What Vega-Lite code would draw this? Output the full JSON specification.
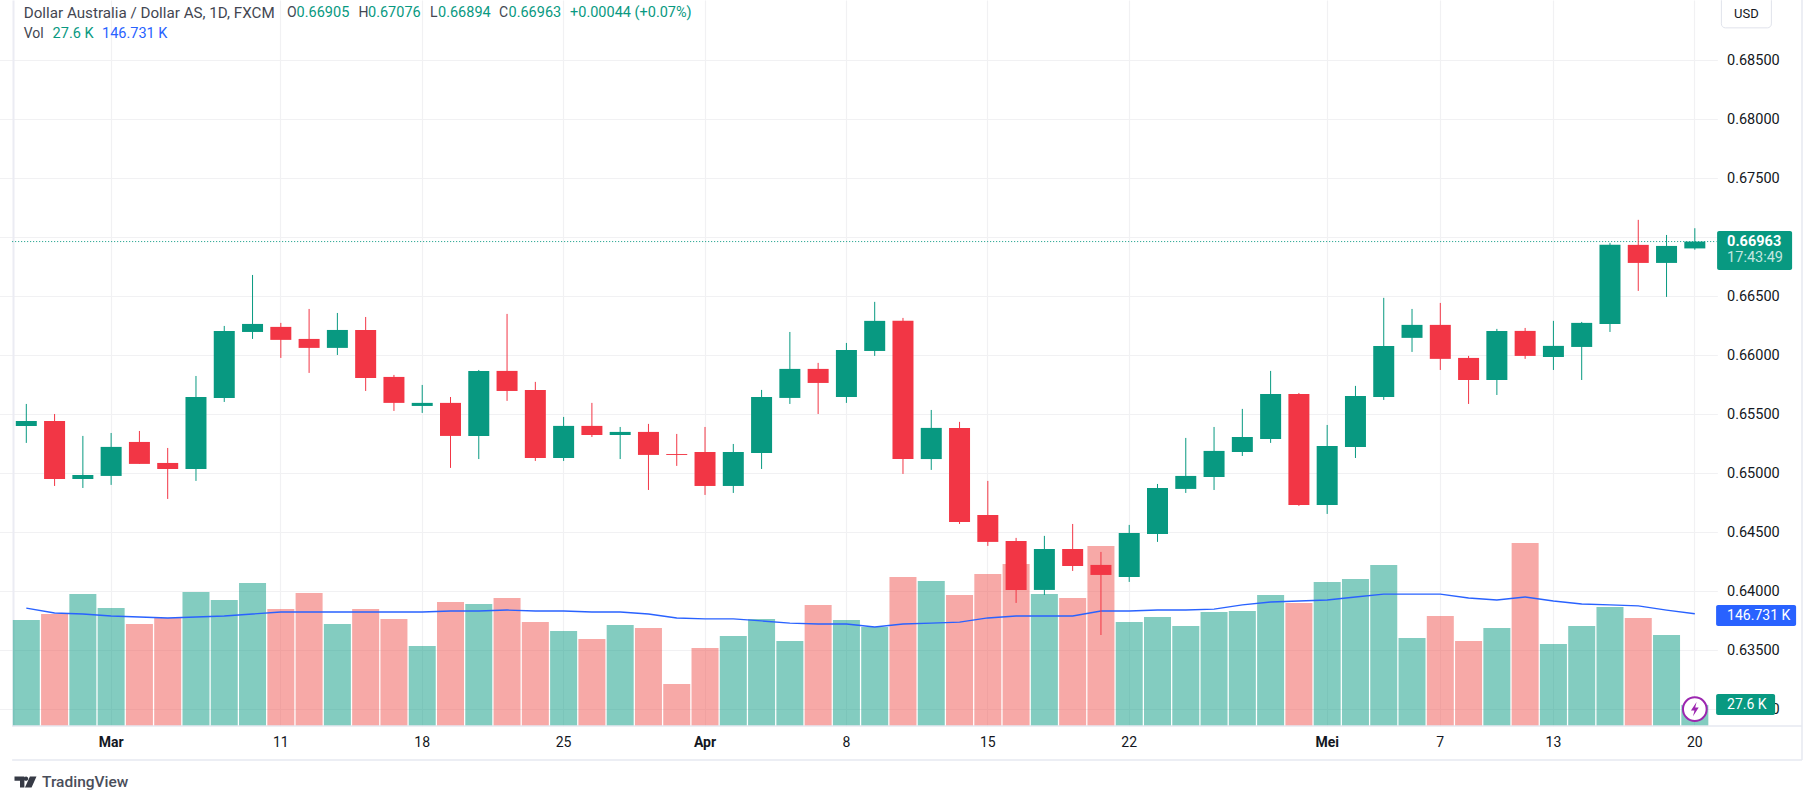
{
"$schema":"https://vega.github.io/schema/vega-lite/v6.json",
"width":1703.5,"height":726,
"autosize":{"type":"none"},
"padding":{"left":13,"top":0,"right":98.5,"bottom":79},
"background":"#ffffff",
"config":{"view":{"stroke":null},"font":"Roboto","text":{"font":"Roboto"}},
"datasets":{"candles":[
{"date":"2024-02-27","o":0.65401,"h":0.65587,"l":0.65257,"c":0.65443,"vol":138.6,"ma":154.2,"dir":"up"},
{"date":"2024-02-28","o":0.65443,"h":0.65502,"l":0.64892,"c":0.64951,"vol":146.4,"ma":147.7,"dir":"down"},
{"date":"2024-02-29","o":0.64951,"h":0.65316,"l":0.64875,"c":0.64985,"vol":172.5,"ma":146.4,"dir":"up"},
{"date":"2024-03-01","o":0.64977,"h":0.65341,"l":0.64901,"c":0.65223,"vol":154.2,"ma":143.8,"dir":"up"},
{"date":"2024-03-04","o":0.65265,"h":0.65358,"l":0.65079,"c":0.65079,"vol":133.3,"ma":142.5,"dir":"down"},
{"date":"2024-03-05","o":0.65087,"h":0.65214,"l":0.64782,"c":0.65036,"vol":141.2,"ma":141.2,"dir":"down"},
{"date":"2024-03-06","o":0.65036,"h":0.65824,"l":0.64935,"c":0.65646,"vol":175.2,"ma":142.5,"dir":"up"},
{"date":"2024-03-07","o":0.65638,"h":0.66248,"l":0.65604,"c":0.66206,"vol":164.7,"ma":143.8,"dir":"up"},
{"date":"2024-03-08","o":0.66197,"h":0.6668,"l":0.66138,"c":0.66265,"vol":186.9,"ma":146.4,"dir":"up"},
{"date":"2024-03-11","o":0.6624,"h":0.66274,"l":0.65977,"c":0.6613,"vol":152.9,"ma":149.0,"dir":"down"},
{"date":"2024-03-12","o":0.66138,"h":0.66392,"l":0.6585,"c":0.66062,"vol":173.9,"ma":149.0,"dir":"down"},
{"date":"2024-03-13","o":0.66062,"h":0.66358,"l":0.66002,"c":0.66214,"vol":133.3,"ma":149.0,"dir":"up"},
{"date":"2024-03-14","o":0.66214,"h":0.66324,"l":0.65697,"c":0.65807,"vol":152.9,"ma":149.0,"dir":"down"},
{"date":"2024-03-15","o":0.65816,"h":0.65833,"l":0.65528,"c":0.65596,"vol":139.9,"ma":149.0,"dir":"down"},
{"date":"2024-03-18","o":0.6557,"h":0.65748,"l":0.65511,"c":0.65596,"vol":104.6,"ma":149.0,"dir":"up"},
{"date":"2024-03-19","o":0.65596,"h":0.65646,"l":0.65045,"c":0.65316,"vol":162.1,"ma":150.3,"dir":"down"},
{"date":"2024-03-20","o":0.65316,"h":0.65875,"l":0.6512,"c":0.65867,"vol":159.5,"ma":150.3,"dir":"up"},
{"date":"2024-03-21","o":0.65867,"h":0.6635,"l":0.65613,"c":0.65697,"vol":167.3,"ma":151.6,"dir":"down"},
{"date":"2024-03-22","o":0.65706,"h":0.65774,"l":0.65104,"c":0.65129,"vol":135.9,"ma":150.3,"dir":"down"},
{"date":"2024-03-25","o":0.65129,"h":0.65477,"l":0.65104,"c":0.65401,"vol":124.2,"ma":150.3,"dir":"up"},
{"date":"2024-03-26","o":0.65401,"h":0.65596,"l":0.65307,"c":0.65324,"vol":113.7,"ma":149.0,"dir":"down"},
{"date":"2024-03-27","o":0.65324,"h":0.65392,"l":0.6512,"c":0.6535,"vol":132.0,"ma":149.0,"dir":"up"},
{"date":"2024-03-28","o":0.6535,"h":0.65418,"l":0.64858,"c":0.65155,"vol":128.1,"ma":146.4,"dir":"down"},
{"date":"2024-03-29","o":0.65163,"h":0.65333,"l":0.65062,"c":0.65155,"vol":54.9,"ma":141.2,"dir":"down"},
{"date":"2024-04-01","o":0.6518,"h":0.65392,"l":0.64816,"c":0.64892,"vol":102.0,"ma":139.9,"dir":"down"},
{"date":"2024-04-02","o":0.64892,"h":0.65248,"l":0.64833,"c":0.6518,"vol":117.6,"ma":139.9,"dir":"up"},
{"date":"2024-04-03","o":0.65172,"h":0.65706,"l":0.65036,"c":0.65646,"vol":139.9,"ma":137.3,"dir":"up"},
{"date":"2024-04-04","o":0.65638,"h":0.66197,"l":0.65587,"c":0.65884,"vol":111.1,"ma":134.6,"dir":"up"},
{"date":"2024-04-05","o":0.65884,"h":0.65935,"l":0.65502,"c":0.65765,"vol":158.2,"ma":133.3,"dir":"down"},
{"date":"2024-04-08","o":0.65646,"h":0.66104,"l":0.65596,"c":0.66045,"vol":138.6,"ma":133.3,"dir":"up"},
{"date":"2024-04-09","o":0.66036,"h":0.66452,"l":0.65994,"c":0.66291,"vol":129.4,"ma":129.4,"dir":"up"},
{"date":"2024-04-10","o":0.66291,"h":0.66316,"l":0.64994,"c":0.6512,"vol":194.8,"ma":133.3,"dir":"down"},
{"date":"2024-04-11","o":0.6512,"h":0.65536,"l":0.65028,"c":0.65384,"vol":189.5,"ma":134.6,"dir":"up"},
{"date":"2024-04-12","o":0.65384,"h":0.65435,"l":0.6457,"c":0.64587,"vol":171.2,"ma":135.9,"dir":"down"},
{"date":"2024-04-15","o":0.64646,"h":0.64935,"l":0.64384,"c":0.64418,"vol":198.7,"ma":141.2,"dir":"down"},
{"date":"2024-04-16","o":0.64426,"h":0.64452,"l":0.63901,"c":0.64011,"vol":211.8,"ma":143.8,"dir":"down"},
{"date":"2024-04-17","o":0.64011,"h":0.64469,"l":0.63968,"c":0.64358,"vol":172.5,"ma":143.8,"dir":"up"},
{"date":"2024-04-18","o":0.64358,"h":0.6457,"l":0.64172,"c":0.64214,"vol":167.3,"ma":143.8,"dir":"down"},
{"date":"2024-04-19","o":0.64223,"h":0.64333,"l":0.63629,"c":0.64138,"vol":235.3,"ma":150.3,"dir":"down"},
{"date":"2024-04-22","o":0.64121,"h":0.64562,"l":0.64079,"c":0.64494,"vol":135.9,"ma":150.3,"dir":"up"},
{"date":"2024-04-23","o":0.64486,"h":0.64909,"l":0.64418,"c":0.64875,"vol":142.5,"ma":151.6,"dir":"up"},
{"date":"2024-04-24","o":0.64867,"h":0.65299,"l":0.64833,"c":0.64977,"vol":130.7,"ma":151.6,"dir":"up"},
{"date":"2024-04-25","o":0.64968,"h":0.65392,"l":0.64858,"c":0.65189,"vol":149.0,"ma":152.9,"dir":"up"},
{"date":"2024-04-26","o":0.6518,"h":0.65545,"l":0.65146,"c":0.65307,"vol":150.3,"ma":158.2,"dir":"up"},
{"date":"2024-04-29","o":0.65291,"h":0.65867,"l":0.65257,"c":0.65672,"vol":171.2,"ma":162.1,"dir":"up"},
{"date":"2024-04-30","o":0.65672,"h":0.6568,"l":0.64723,"c":0.64731,"vol":160.8,"ma":163.4,"dir":"down"},
{"date":"2024-05-01","o":0.64731,"h":0.65409,"l":0.64655,"c":0.65231,"vol":188.2,"ma":164.7,"dir":"up"},
{"date":"2024-05-02","o":0.65223,"h":0.6574,"l":0.65129,"c":0.65655,"vol":192.2,"ma":168.6,"dir":"up"},
{"date":"2024-05-03","o":0.65646,"h":0.66486,"l":0.65621,"c":0.66079,"vol":210.5,"ma":172.5,"dir":"up"},
{"date":"2024-05-06","o":0.66147,"h":0.66392,"l":0.66028,"c":0.66257,"vol":115.0,"ma":172.5,"dir":"up"},
{"date":"2024-05-07","o":0.66257,"h":0.66443,"l":0.65875,"c":0.65969,"vol":143.8,"ma":172.5,"dir":"down"},
{"date":"2024-05-08","o":0.65977,"h":0.65994,"l":0.65587,"c":0.6579,"vol":111.1,"ma":167.3,"dir":"down"},
{"date":"2024-05-09","o":0.6579,"h":0.66223,"l":0.65663,"c":0.66206,"vol":128.1,"ma":164.7,"dir":"up"},
{"date":"2024-05-10","o":0.66206,"h":0.66231,"l":0.65969,"c":0.65994,"vol":239.2,"ma":168.6,"dir":"down"},
{"date":"2024-05-13","o":0.65985,"h":0.66291,"l":0.65875,"c":0.66079,"vol":107.2,"ma":163.4,"dir":"up"},
{"date":"2024-05-14","o":0.6607,"h":0.66282,"l":0.6579,"c":0.66274,"vol":130.7,"ma":159.5,"dir":"up"},
{"date":"2024-05-15","o":0.66265,"h":0.66952,"l":0.66197,"c":0.66935,"vol":155.6,"ma":158.2,"dir":"up"},
{"date":"2024-05-16","o":0.66935,"h":0.67147,"l":0.66545,"c":0.66782,"vol":141.2,"ma":156.9,"dir":"down"},
{"date":"2024-05-17","o":0.66782,"h":0.67019,"l":0.66494,"c":0.66926,"vol":119.0,"ma":151.6,"dir":"up"},
{"date":"2024-05-20","o":0.66905,"h":0.67076,"l":0.66894,"c":0.66963,"vol":27.6,"ma":146.731,"dir":"up"}
]},
"data":{"name":"candles"},
"encoding":{"x":{"field":"date","type":"nominal","title":null,
"scale":{"type":"band","paddingInner":0,"paddingOuter":0,"range":[-0.84,1809.08],
"domain":["2024-02-27","2024-02-28","2024-02-29","2024-03-01","2024-03-04","2024-03-05","2024-03-06","2024-03-07","2024-03-08","2024-03-11","2024-03-12","2024-03-13","2024-03-14","2024-03-15","2024-03-18","2024-03-19","2024-03-20","2024-03-21","2024-03-22","2024-03-25","2024-03-26","2024-03-27","2024-03-28","2024-03-29","2024-04-01","2024-04-02","2024-04-03","2024-04-04","2024-04-05","2024-04-08","2024-04-09","2024-04-10","2024-04-11","2024-04-12","2024-04-15","2024-04-16","2024-04-17","2024-04-18","2024-04-19","2024-04-22","2024-04-23","2024-04-24","2024-04-25","2024-04-26","2024-04-29","2024-04-30","2024-05-01","2024-05-02","2024-05-03","2024-05-06","2024-05-07","2024-05-08","2024-05-09","2024-05-10","2024-05-13","2024-05-14","2024-05-15","2024-05-16","2024-05-17","2024-05-20","2024-05-21","2024-05-22","2024-05-23","2024-05-24"]},
"axis":{"values":["2024-03-01","2024-03-11","2024-03-18","2024-03-25","2024-04-01","2024-04-08","2024-04-15","2024-04-22","2024-05-01","2024-05-07","2024-05-13","2024-05-20"],
"labelExpr":"{'2024-03-01':'Mar','2024-03-11':'11','2024-03-18':'18','2024-03-25':'25','2024-04-01':'Apr','2024-04-08':'8','2024-04-15':'15','2024-04-22':'22','2024-05-01':'Mei','2024-05-07':'7','2024-05-13':'13','2024-05-20':'20'}[datum.value]",
"labelAngle":0,"labelFontSize":14,"labelColor":"#131722","labelFont":"Roboto","labelPadding":9,"labelOverlap":false,"labelFlush":false,
"labelFontWeight":{"condition":{"test":"indexof(['2024-03-01','2024-04-01','2024-05-01'],datum.value)>=0","value":"bold"},"value":"normal"},
"ticks":false,"domain":false,"grid":true,"gridColor":"#f1f1f3","gridWidth":1.2}}},
"resolve":{"scale":{"y":"independent"}},
"layer":[
{"layer":[
{"mark":{"type":"bar","size":27,"opacity":0.5},
"encoding":{"y":{"field":"vol","type":"quantitative","stack":null,"title":null,"scale":{"domain":[0,949],"nice":false},
"axis":{"orient":"left","labels":false,"ticks":false,"grid":false,"title":null,"domain":true,"domainColor":"#ebecf3","domainWidth":2}},
"color":{"condition":{"test":"datum.dir=='up'","value":"#089981"},"value":"#EF5350"}}},
{"mark":{"type":"line","color":"#2962FF","strokeWidth":1.3},
"encoding":{"y":{"field":"ma","type":"quantitative","title":null,"scale":{"domain":[0,949],"nice":false}}}},
{"data":{"values":[{"date":"2024-05-21","top":158.2,"bottom":130.7}]},
"mark":{"type":"bar","size":80,"xOffset":33,"color":"#2962FF","cornerRadius":2},
"encoding":{"y":{"field":"top","type":"quantitative","title":null,"scale":{"domain":[0,949],"nice":false}},"y2":{"field":"bottom"}}},
{"data":{"values":[{"date":"2024-05-21","top":41.8,"bottom":14.4}]},
"mark":{"type":"bar","size":59,"xOffset":22.5,"color":"#089981","cornerRadius":2},
"encoding":{"y":{"field":"top","type":"quantitative","title":null,"scale":{"domain":[0,949],"nice":false}},"y2":{"field":"bottom"}}},
{"data":{"values":[{"date":"2024-05-21","v":143.8,"t":"146.731 K"},{"date":"2024-05-21","v":28.1,"t":"27.6 K"}]},
"mark":{"type":"text","align":"left","baseline":"middle","dx":4,"fontSize":14,"color":"#ffffff"},
"encoding":{"y":{"field":"v","type":"quantitative","title":null,"scale":{"domain":[0,949],"nice":false}},"text":{"field":"t"}}},
{"data":{"values":[{"date":"2024-05-20","v":22}]},
"mark":{"type":"point","shape":"circle","filled":true,"fill":"#ffffff","stroke":"#9C27B0","strokeWidth":2,"opacity":1,"size":560},
"encoding":{"y":{"field":"v","type":"quantitative","title":null,"scale":{"domain":[0,949],"nice":false}}}},
{"data":{"values":[{"date":"2024-05-20","v":22}]},
"mark":{"type":"point","shape":"M0.25,-1 L-0.55,0.2 L-0.05,0.2 L-0.25,1 L0.55,-0.25 L0.05,-0.25 Z","filled":true,"fill":"#9C27B0","opacity":1,"size":200},
"encoding":{"y":{"field":"v","type":"quantitative","title":null,"scale":{"domain":[0,949],"nice":false}}}}
]},
{"layer":[
{"data":{"values":[{"date":"2024-02-27","end":"2024-05-21","p":0.66963}]},
"mark":{"type":"rule","color":"#089981","strokeWidth":1,"strokeDash":[1,2]},
"encoding":{"x":{"field":"date","type":"nominal","bandPosition":0},"x2":{"field":"end","bandPosition":0.27},
"y":{"field":"p","type":"quantitative","title":null,"scale":{"domain":[0.62858,0.6901],"zero":false,"nice":false},
"axis":{"orient":"right","values":[0.685,0.68,0.675,0.67,0.665,0.66,0.655,0.65,0.645,0.64,0.635,0.63],"format":".5f","title":null,"labelFontSize":14.5,"labelFont":"Roboto","labelColor":"#131722","labelPadding":10,"labelOverlap":false,"labelFlush":false,"ticks":false,"domain":false,"grid":true,"gridColor":"#f1f1f3","gridWidth":1.2}}}},
{"mark":{"type":"rule","strokeWidth":1},
"encoding":{"y":{"field":"l","type":"quantitative","title":null,"scale":{"domain":[0.62858,0.6901],"zero":false,"nice":false}},"y2":{"field":"h"},
"color":{"field":"dir","type":"nominal","legend":null,"scale":{"domain":["up","down"],"range":["#089981","#F23645"]}}}},
{"mark":{"type":"bar","size":21},
"encoding":{"y":{"field":"o","type":"quantitative","title":null,"stack":null,"scale":{"domain":[0.62858,0.6901],"zero":false,"nice":false}},"y2":{"field":"c"},
"color":{"field":"dir","type":"nominal","legend":null,"scale":{"domain":["up","down"],"range":["#089981","#F23645"]}}}},
{"data":{"values":[{"date":"2024-02-27","end":"2024-05-24","p":0.62858},{"date":"2024-02-27","end":"2024-05-24","p":0.6257}]},
"mark":{"type":"rule","color":"#e6e8f0","strokeWidth":1.5},
"encoding":{"x":{"field":"date","type":"nominal","bandPosition":0},"x2":{"field":"end","bandPosition":0.29},
"y":{"field":"p","type":"quantitative","title":null,"scale":{"domain":[0.62858,0.6901],"zero":false,"nice":false}}}},
{"data":{"values":[{"date":"2024-05-24","top":0.6901,"bottom":0.6257}]},
"mark":{"type":"rule","color":"#e6e8f0","strokeWidth":1.5},
"encoding":{"x":{"field":"date","type":"nominal","bandPosition":0.29},
"y":{"field":"top","type":"quantitative","title":null,"scale":{"domain":[0.62858,0.6901],"zero":false,"nice":false}},"y2":{"field":"bottom"}}},
{"data":{"values":[{"date":"2024-05-21","top":0.67053,"bottom":0.66723}]},
"mark":{"type":"bar","size":75,"xOffset":31.5,"color":"#089981","cornerRadius":2},
"encoding":{"y":{"field":"top","type":"quantitative","title":null,"scale":{"domain":[0.62858,0.6901],"zero":false,"nice":false}},"y2":{"field":"bottom"}}},
{"data":{"values":[{"date":"2024-05-21","p":0.66963,"t":"0.66963"}]},
"mark":{"type":"text","align":"left","baseline":"middle","dx":4,"fontSize":14.5,"fontWeight":"bold","color":"#ffffff"},
"encoding":{"y":{"field":"p","type":"quantitative","title":null,"scale":{"domain":[0.62858,0.6901],"zero":false,"nice":false}},"text":{"field":"t"}}},
{"data":{"values":[{"date":"2024-05-21","p":0.66823,"t":"17:43:49"}]},
"mark":{"type":"text","align":"left","baseline":"middle","dx":4,"fontSize":14.5,"color":"#c4e7e0"},
"encoding":{"y":{"field":"p","type":"quantitative","title":null,"scale":{"domain":[0.62858,0.6901],"zero":false,"nice":false}},"text":{"field":"t"}}},
{"data":{"values":[{"date":"2024-05-22","top":0.6904,"bottom":0.68774}]},
"mark":{"type":"bar","size":50,"xOffset":-5,"fill":"#ffffff","stroke":"#e0e3eb","cornerRadius":4},
"encoding":{"y":{"field":"top","type":"quantitative","title":null,"scale":{"domain":[0.62858,0.6901],"zero":false,"nice":false}},"y2":{"field":"bottom"}}},
{"data":{"values":[{"date":"2024-05-22","p":0.68892,"t":"USD"}]},
"mark":{"type":"text","align":"center","baseline":"middle","dx":-5,"fontSize":13,"color":"#131722"},
"encoding":{"y":{"field":"p","type":"quantitative","title":null,"scale":{"domain":[0.62858,0.6901],"zero":false,"nice":false}},"text":{"field":"t"}}},
{"encoding":{"x":{"field":"date","type":"nominal"},"y":{"field":"p","type":"quantitative","title":null,"scale":{"domain":[0.62858,0.6901],"zero":false,"nice":false}},"text":{"field":"t"}},
"layer":[
{"data":{"values":[{"date":"2024-02-27","p":0.68901,"t":"Dollar Australia / Dollar AS, 1D, FXCM"}]},"mark":{"type":"text","align":"left","baseline":"middle","dx":-2.6,"fontSize":15.2,"color":"#434651"}},
{"data":{"values":[{"date":"2024-02-27","p":0.68901,"t":"O"}]},"mark":{"type":"text","align":"left","baseline":"middle","dx":260.7,"fontSize":14,"color":"#434651"}},
{"data":{"values":[{"date":"2024-02-27","p":0.68901,"t":"0.66905"}]},"mark":{"type":"text","align":"left","baseline":"middle","dx":270.3,"fontSize":14.5,"color":"#089981"}},
{"data":{"values":[{"date":"2024-02-27","p":0.68901,"t":"H"}]},"mark":{"type":"text","align":"left","baseline":"middle","dx":332.3,"fontSize":14,"color":"#434651"}},
{"data":{"values":[{"date":"2024-02-27","p":0.68901,"t":"0.67076"}]},"mark":{"type":"text","align":"left","baseline":"middle","dx":341.7,"fontSize":14.5,"color":"#089981"}},
{"data":{"values":[{"date":"2024-02-27","p":0.68901,"t":"L"}]},"mark":{"type":"text","align":"left","baseline":"middle","dx":403.7,"fontSize":14,"color":"#434651"}},
{"data":{"values":[{"date":"2024-02-27","p":0.68901,"t":"0.66894"}]},"mark":{"type":"text","align":"left","baseline":"middle","dx":411.7,"fontSize":14.5,"color":"#089981"}},
{"data":{"values":[{"date":"2024-02-27","p":0.68901,"t":"C"}]},"mark":{"type":"text","align":"left","baseline":"middle","dx":472.7,"fontSize":14,"color":"#434651"}},
{"data":{"values":[{"date":"2024-02-27","p":0.68901,"t":"0.66963"}]},"mark":{"type":"text","align":"left","baseline":"middle","dx":482.2,"fontSize":14.5,"color":"#089981"}},
{"data":{"values":[{"date":"2024-02-27","p":0.68901,"t":"+0.00044 (+0.07%)"}]},"mark":{"type":"text","align":"left","baseline":"middle","dx":543.7,"fontSize":14.5,"color":"#089981"}},
{"data":{"values":[{"date":"2024-02-27","p":0.68723,"t":"Vol"}]},"mark":{"type":"text","align":"left","baseline":"middle","dx":-2.6,"fontSize":14,"color":"#434651"}},
{"data":{"values":[{"date":"2024-02-27","p":0.68723,"t":"27.6 K"}]},"mark":{"type":"text","align":"left","baseline":"middle","dx":26.3,"fontSize":14.5,"color":"#089981"}},
{"data":{"values":[{"date":"2024-02-27","p":0.68723,"t":"146.731 K"}]},"mark":{"type":"text","align":"left","baseline":"middle","dx":75.7,"fontSize":14.5,"color":"#2962FF"}},
{"data":{"values":[{"date":"2024-02-27","p":0.62384,"t":"TradingView"}]},"mark":{"type":"text","align":"left","baseline":"middle","dx":15.7,"fontSize":15.5,"fontWeight":500,"color":"#4a4e5a"}}
]},
{"data":{"values":[{"date":"2024-02-27","p":0.62384}]},
"mark":{"type":"point","shape":"M-1,-0.5 H-0.1 V0.5 H-0.5 V-0.1 H-1 Z M0.05,-0.5 A0.2,0.2 0 1 1 0.05,-0.1 A0.2,0.2 0 1 1 0.05,-0.5 Z M0.4,-0.5 H1 L0.55,0.5 H-0.05 Z","filled":true,"fill":"#363a45","opacity":1,"size":484,"xOffset":-0.8},
"encoding":{"y":{"field":"p","type":"quantitative","title":null,"scale":{"domain":[0.62858,0.6901],"zero":false,"nice":false}}}}
]}
]
}
